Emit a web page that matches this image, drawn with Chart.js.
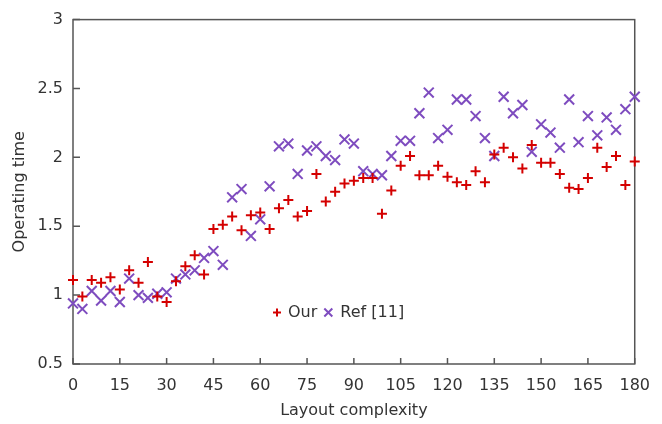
<!DOCTYPE html>
<html>
<head>
<meta charset="utf-8">
<script src="https://cdn.jsdelivr.net/npm/chart.js@4.4.0/dist/chart.umd.min.js"></script>
<style>
  html, body { margin: 0; padding: 0; background: #fff; }
</style>
</head>
<body>
<canvas id="chart" width="662" height="424"></canvas>
<script>
// layout complexity (x) and operating time of both methods
const complexity = [0, 3, 6, 9, 12, 15, 18, 21, 24, 27, 30, 33, 36, 39, 42, 45, 48, 51, 54, 57,
  60, 63, 66, 69, 72, 75, 78, 81, 84, 87, 90, 93, 96, 99, 102, 105, 108, 111, 114, 117,
  120, 123, 126, 129, 132, 135, 138, 141, 144, 147, 150, 153, 156, 159, 162, 165, 168, 171, 174, 177, 180];

const ourTime = [1.11, 0.99, 1.11, 1.09, 1.13, 1.04, 1.18, 1.09, 1.24, 0.99, 0.95, 1.10, 1.21, 1.29, 1.15, 1.48, 1.51, 1.57, 1.47, 1.58,
  1.60, 1.48, 1.63, 1.69, 1.57, 1.61, 1.88, 1.68, 1.75, 1.81, 1.83, 1.85, 1.85, 1.59, 1.76, 1.94, 2.01, 1.87, 1.87, 1.94,
  1.86, 1.82, 1.80, 1.90, 1.82, 2.02, 2.07, 2.00, 1.92, 2.09, 1.96, 1.96, 1.88, 1.78, 1.77, 1.85, 2.07, 1.93, 2.01, 1.80, 1.97];

const refTime = [0.94, 0.90, 1.03, 0.96, 1.03, 0.95, 1.12, 1.00, 0.98, 1.01, 1.02, 1.12, 1.15, 1.18, 1.27, 1.32, 1.22, 1.71, 1.77, 1.43,
  1.55, 1.79, 2.08, 2.10, 1.88, 2.05, 2.08, 2.01, 1.98, 2.13, 2.10, 1.90, 1.88, 1.87, 2.01, 2.12, 2.12, 2.32, 2.47, 2.14,
  2.20, 2.42, 2.42, 2.30, 2.14, 2.01, 2.44, 2.32, 2.38, 2.04, 2.24, 2.18, 2.07, 2.42, 2.11, 2.30, 2.16, 2.29, 2.20, 2.35, 2.44];

const seriesNames = ['Our', 'Ref [11]'];
const xTickValues = [0, 15, 30, 45, 60, 75, 90, 105, 120, 135, 150, 165, 180];
const yTickValues = [0.5, 1, 1.5, 2, 2.5, 3];

const RED = '#d40000';
const PURPLE = '#7e4cbf';
const AXIS = '#555555';
const TEXT = '#333333';
const FONT = 'DejaVu Sans';

// box round the plot with short ticks pointing inward, plus the legend inside the plot
const frameAndLegend = {
  id: 'frameAndLegend',
  beforeDatasetsDraw(chart) {
    const ctx = chart.ctx;
    const a = chart.chartArea;
    const xs = chart.scales.x, ys = chart.scales.y;
    ctx.save();
    ctx.strokeStyle = AXIS;
    ctx.lineWidth = 1.5;
    ctx.strokeRect(a.left, a.top, a.right - a.left, a.bottom - a.top);
    ctx.beginPath();
    xTickValues.forEach(v => {
      const px = xs.getPixelForValue(v);
      ctx.moveTo(px, a.bottom);
      ctx.lineTo(px, a.bottom - 6);
    });
    yTickValues.forEach(v => {
      const py = ys.getPixelForValue(v);
      ctx.moveTo(a.left, py);
      ctx.lineTo(a.left + 7, py);
    });
    ctx.stroke();
    ctx.restore();
  },
  afterDraw(chart) {
    const ctx = chart.ctx;
    const a = chart.chartArea;
    ctx.save();
    const ly = a.bottom - 51.5;
    let lx = a.left + 204;
    ctx.font = '16px "' + FONT + '"';
    ctx.textBaseline = 'middle';
    ctx.textAlign = 'left';
    ctx.lineWidth = 2;

    ctx.strokeStyle = RED;
    ctx.beginPath();
    ctx.moveTo(lx - 4, ly); ctx.lineTo(lx + 4, ly);
    ctx.moveTo(lx, ly - 4); ctx.lineTo(lx, ly + 4);
    ctx.stroke();
    ctx.fillStyle = TEXT;
    ctx.fillText(seriesNames[0], lx + 11, ly);
    lx += 11 + ctx.measureText(seriesNames[0]).width + 11;

    ctx.strokeStyle = PURPLE;
    ctx.beginPath();
    ctx.moveTo(lx - 4, ly - 4); ctx.lineTo(lx + 4, ly + 4);
    ctx.moveTo(lx - 4, ly + 4); ctx.lineTo(lx + 4, ly - 4);
    ctx.stroke();
    ctx.fillText(seriesNames[1], lx + 12, ly);
    ctx.restore();
  }
};

const ctx = document.getElementById('chart').getContext('2d');
new Chart(ctx, {
  type: 'scatter',
  data: {
    datasets: [{
      label: seriesNames[0],
      data: complexity.map((x, i) => ({ x: x, y: ourTime[i] })),
      pointStyle: 'cross',
      pointRadius: 5,
      borderColor: RED,
      backgroundColor: RED,
      borderWidth: 2,
      clip: false
    }, {
      label: seriesNames[1],
      data: complexity.map((x, i) => ({ x: x, y: refTime[i] })),
      pointStyle: 'crossRot',
      pointRadius: 7,
      borderColor: PURPLE,
      backgroundColor: PURPLE,
      borderWidth: 2,
      clip: false
    }]
  },
  options: {
    responsive: false,
    animation: false,
    devicePixelRatio: 1,
    layout: { padding: { left: 0, top: 17, right: 17, bottom: 0 } },
    plugins: {
      legend: { display: false },
      tooltip: { enabled: false }
    },
    scales: {
      x: {
        type: 'linear',
        min: 0,
        max: 180,
        afterFit: scale => { scale.height = 60; },
        afterBuildTicks: scale => { scale.ticks = xTickValues.map(v => ({ value: v })); },
        grid: { display: false, drawTicks: false },
        border: { display: false },
        ticks: {
          padding: 12,
          color: TEXT,
          maxRotation: 0,
          callback: v => String(v),
          font: { family: FONT, size: 16 }
        },
        title: {
          display: true,
          text: 'Layout complexity',
          color: TEXT,
          font: { family: FONT, size: 16 },
          padding: { top: 0, bottom: 4 }
        }
      },
      y: {
        type: 'linear',
        min: 0.5,
        max: 3,
        afterFit: scale => { scale.width = 73; },
        afterBuildTicks: scale => { scale.ticks = yTickValues.map(v => ({ value: v })); },
        grid: { display: false, drawTicks: false },
        border: { display: false },
        ticks: {
          padding: 10,
          color: TEXT,
          callback: v => String(v),
          font: { family: FONT, size: 16 }
        },
        title: {
          display: true,
          text: 'Operating time',
          color: TEXT,
          font: { family: FONT, size: 16 },
          padding: { top: 10, bottom: 0 }
        }
      }
    }
  },
  plugins: [frameAndLegend]
});
</script>
</body>
</html>
